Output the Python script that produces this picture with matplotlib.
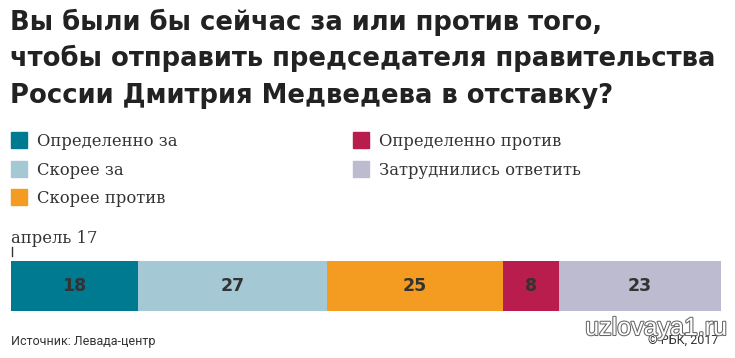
import matplotlib.pyplot as plt
from matplotlib.patches import Rectangle
import matplotlib.patheffects as pe

categorias = ['Определенно за', 'Скорее за', 'Скорее против', 'Определенно против', 'Затруднились ответить']
valores = [18, 27, 25, 8, 23]
cores = ['#007A91', '#A5C9D4', '#F39C21', '#B81D4E', '#BDBBD0']
periodo = 'апрель 17'
titulo = ['Вы были бы сейчас за или против того,',
          'чтобы отправить председателя правительства',
          'России Дмитрия Медведева в отставку?']

W, H = 735, 358
fig = plt.figure(figsize=(W / 100, H / 100), dpi=100)

def fx(px):
    return px / W

def fy(py):
    return 1 - py / H

# titulo, uma linha de cada vez
for i, linha in enumerate(titulo):
    fig.text(fx(10), fy(30 + i * 36.5), linha, ha='left', va='baseline', fontsize=18.6,
             fontweight='bold', family='DejaVu Sans', color='#222222')

# legenda manual
pos_leg = [(11, 140), (11, 169), (11, 197), (353, 140), (353, 169)]
for (x, y), nome, cor in zip(pos_leg, categorias, cores):
    fig.patches.append(Rectangle((fx(x), fy(y + 8)), 16 / W, 16 / H, color=cor,
                                 transform=fig.transFigure, figure=fig))
    fig.text(fx(x + 26), fy(y + 6), nome, ha='left', va='baseline', fontsize=11.8,
             family='DejaVu Serif', color='#333333')

fig.text(fx(11), fy(243), periodo, ha='left', va='baseline', fontsize=11.8,
         family='DejaVu Serif', color='#333333')
fig.add_artist(plt.Line2D([fx(11.5), fx(11.5)], [fy(247), fy(256)], color='#333333', lw=1))

# barra empilhada
ax = fig.add_axes([fx(11), fy(311), fx(721) - fx(11), fy(261) - fy(311)])
esq = 0
for v, cor in zip(valores, cores):
    ax.barh(0, v, left=esq, height=1, color=cor)
    ax.text(esq + v / 2, 0, str(v), ha='center', va='center', fontsize=12.5,
            fontweight='bold', family='DejaVu Sans', color='#333333')
    esq += v
ax.set_xlim(0, sum(valores))
ax.set_ylim(-0.5, 0.5)
ax.axis('off')

# rodape
fig.text(fx(11), fy(341), 'Источник: Левада-центр', ha='left', va='center', fontsize=9,
         family='Roboto', color='#333333')
fig.text(fx(718), fy(341), '© РБК, 2017', ha='right', va='center', fontsize=9,
         family='Roboto', color='#333333')
fig.text(fx(727), fy(328), 'uzlovaya1.ru', ha='right', va='center', fontsize=18,
         family='Liberation Sans', color='white',
         path_effects=[pe.withStroke(linewidth=1.5, foreground='#666666')])

fig.savefig('out.png', dpi=100)
